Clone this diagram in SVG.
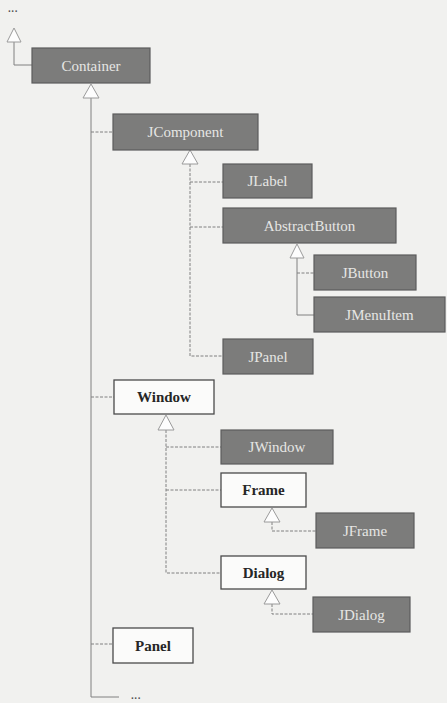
<svg xmlns="http://www.w3.org/2000/svg" width="447" height="703" viewBox="0 0 447 703">
  <defs>
    <style>
      .bg { fill: #f1f1ef; }
      .dark rect { fill: #7c7c7b; stroke: #5c5c5c; stroke-width: 1.2; }
      .dark text { fill: #e6e6e4; font-family: "Liberation Serif", serif; font-size: 15px; text-anchor: middle; dominant-baseline: central; }
      .light rect { fill: #fbfbfa; stroke: #4a4a4a; stroke-width: 1.3; }
      .light text { fill: #262626; font-family: "Liberation Serif", serif; font-size: 15px; font-weight: bold; text-anchor: middle; dominant-baseline: central; }
      .line { fill: none; stroke: #808080; stroke-width: 1; }
      .dash { fill: none; stroke: #808080; stroke-width: 1; stroke-dasharray: 3 1.5; }
      .tri { fill: #fdfdfd; stroke: #9a9a9a; stroke-width: 1; }
      .dots { fill: #555; font-family: "Liberation Sans", sans-serif; font-size: 10px; font-weight: bold; }
    </style>
  </defs>

  <rect class="bg" x="0" y="0" width="447" height="703"/>

  <!-- connectors -->
  <g id="connectors">
    <!-- Container up to its parent -->
    <polyline class="line" points="14,42 14,65 32,65"/>
    <!-- main trunk under Container -->
    <polyline class="line" points="91,98 91,697 119,697"/>
    <line class="dash" x1="91" y1="132" x2="113" y2="132"/>
    <line class="dash" x1="91" y1="397" x2="114" y2="397"/>
    <line class="dash" x1="91" y1="644" x2="113" y2="644"/>

    <!-- JComponent subtree -->
    <polyline class="dash" points="190,164 190,356 223,356"/>
    <line class="dash" x1="190" y1="182" x2="223" y2="182"/>
    <line class="dash" x1="190" y1="227" x2="223" y2="227"/>

    <!-- AbstractButton subtree -->
    <polyline class="line" points="297,258 297,315 314,315"/>
    <line class="dash" x1="297" y1="273" x2="314" y2="273"/>

    <!-- Window subtree -->
    <polyline class="dash" points="166,430 166,573 221,573"/>
    <line class="dash" x1="166" y1="447" x2="221" y2="447"/>
    <line class="dash" x1="166" y1="490" x2="221" y2="490"/>

    <!-- Frame / Dialog children -->
    <polyline class="dash" points="272,522 272,531 316,531"/>
    <polyline class="dash" points="272,604 272,614 313,614"/>

    <!-- hollow inheritance arrowheads -->
    <polygon class="tri" points="14,28 7,42 21,42"/>
    <polygon class="tri" points="91,84 83,98 99,98"/>
    <polygon class="tri" points="190,150 182,164 198,164"/>
    <polygon class="tri" points="297,244 290,258 304,258"/>
    <polygon class="tri" points="166,415 158,430 174,430"/>
    <polygon class="tri" points="272,508 264,522 280,522"/>
    <polygon class="tri" points="272,590 264,604 280,604"/>
  </g>

  <text class="dots" x="8" y="15">···</text>
  <text class="dots" x="131" y="702">···</text>

  <g id="container" class="dark">
    <rect x="32" y="48" width="118" height="35"/>
    <text x="91" y="65.5">Container</text>
  </g>
  <g id="jcomponent" class="dark">
    <rect x="113" y="114" width="145" height="36"/>
    <text x="185.5" y="132">JComponent</text>
  </g>
  <g id="jlabel" class="dark">
    <rect x="223" y="164" width="89" height="34"/>
    <text x="267.5" y="181">JLabel</text>
  </g>
  <g id="abstractbutton" class="dark">
    <rect x="223" y="208" width="173" height="35"/>
    <text x="309.5" y="225.5">AbstractButton</text>
  </g>
  <g id="jbutton" class="dark">
    <rect x="314" y="255" width="102" height="35"/>
    <text x="365" y="272.5">JButton</text>
  </g>
  <g id="jmenuitem" class="dark">
    <rect x="314" y="297" width="131" height="35"/>
    <text x="379.5" y="314.5">JMenuItem</text>
  </g>
  <g id="jpanel" class="dark">
    <rect x="223" y="339" width="90" height="35"/>
    <text x="268" y="356.5">JPanel</text>
  </g>
  <g id="window" class="light">
    <rect x="114" y="380" width="100" height="34"/>
    <text x="164" y="397">Window</text>
  </g>
  <g id="jwindow" class="dark">
    <rect x="221" y="430" width="112" height="34"/>
    <text x="277" y="447">JWindow</text>
  </g>
  <g id="frame" class="light">
    <rect x="221" y="473" width="85" height="34"/>
    <text x="263.5" y="490">Frame</text>
  </g>
  <g id="jframe" class="dark">
    <rect x="316" y="513" width="98" height="35"/>
    <text x="365" y="530.5">JFrame</text>
  </g>
  <g id="dialog" class="light">
    <rect x="221" y="556" width="85" height="33"/>
    <text x="263.5" y="572.5">Dialog</text>
  </g>
  <g id="jdialog" class="dark">
    <rect x="313" y="597" width="97" height="35"/>
    <text x="361.5" y="614.5">JDialog</text>
  </g>
  <g id="panel" class="light">
    <rect x="113" y="628" width="80" height="35"/>
    <text x="153" y="645.5">Panel</text>
  </g>
</svg>
